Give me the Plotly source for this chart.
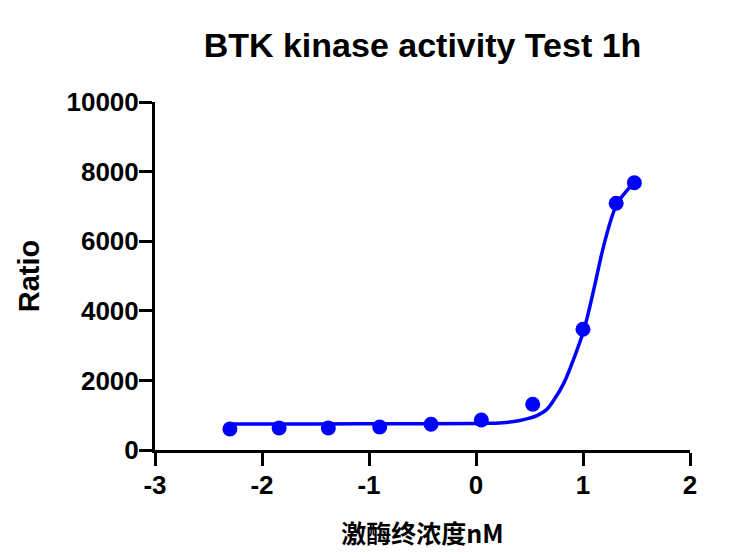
import plotly.graph_objects as go

# measured points: log10 of enzyme concentration (nM) vs ratio
log_conc = [-2.30, -1.84, -1.38, -0.90, -0.42, 0.05, 0.53, 1.00, 1.31, 1.48]
ratio = [603, 632, 632, 661, 740, 862, 1315, 3470, 7090, 7680]

# fitted curve
fit_x = [-2.30, -1.50, -0.50, 0.00, 0.25, 0.41, 0.50, 0.57, 0.66, 0.72, 0.82, 0.91,
         1.01, 1.10, 1.18, 1.26, 1.32, 1.40, 1.48]
fit_y = [750, 750, 755, 765, 785, 850, 915, 990, 1160, 1400, 1915, 2590,
         3470, 4600, 5700, 6600, 7090, 7420, 7680]

x_ticks = [-3, -2, -1, 0, 1, 2]
x_tick_text = ['-3', '-2', '-1', '0', '1', '2']
y_ticks = [0, 2000, 4000, 6000, 8000, 10000]
y_tick_text = ['0', '2000', '4000', '6000', '8000', '10000']

blue = '#0000FF'
font = 'Liberation Sans, Arial, sans-serif'

fig = go.Figure()
fig.add_trace(go.Scatter(x=fit_x, y=fit_y, mode='lines',
                         line=dict(color=blue, width=3.5, shape='spline', smoothing=1.0),
                         hoverinfo='skip', showlegend=False))
fig.add_trace(go.Scatter(x=log_conc, y=ratio, mode='markers',
                         marker=dict(color=blue, size=15),
                         showlegend=False))

axis_style = dict(showline=True, linecolor='black', linewidth=3,
                  ticks='outside', ticklen=13, tickwidth=3, tickcolor='black',
                  showgrid=False, zeroline=False,
                  tickfont=dict(family=font, size=26, color='black', weight='bold'))

fig.update_xaxes(range=[-3, 2], tickvals=x_ticks, ticktext=x_tick_text,
                 ticklabelstandoff=-3,
                 title=dict(text='<b>激酶终浓度nM</b>', standoff=27,
                            font=dict(family='Noto Sans CJK SC, ' + font, size=25, color='black')),
                 **axis_style)
fig.update_yaxes(range=[0, 10000], tickvals=y_ticks, ticktext=y_tick_text,
                 ticklabelstandoff=-5,
                 title=dict(text='<b>Ratio</b>', standoff=19,
                            font=dict(family=font, size=29, color='black')),
                 **axis_style)

# page body adds ~8px offset, margins compensate for it
fig.update_layout(
    width=743, height=558,
    margin=dict(l=147, r=61, t=94, b=116),
    plot_bgcolor='white', paper_bgcolor='white',
    title=dict(text='<b>BTK kinase activity Test 1h</b>', x=0.5, xref='paper',
               y=1 - 37 / 558, yref='container', yanchor='middle',
               font=dict(family=font, size=34, color='black')),
)

fig.write_html('out.html')
